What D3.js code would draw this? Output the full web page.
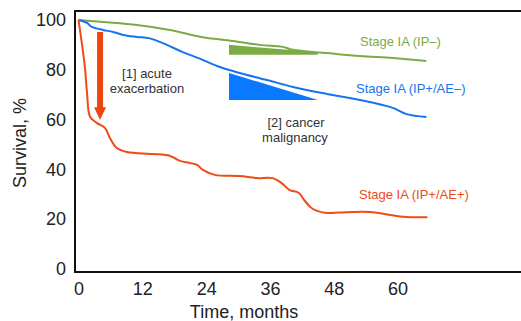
<!DOCTYPE html>
<html>
  <head>
    <meta charset="utf-8" />
    <title>Survival</title>
    <script src="https://d3js.org/d3.v7.min.js"></script>
    <style>
        body{ margin: 0; background: #fff; }
        text{ font-family: "Liberation Sans", Arial, sans-serif; }
    </style>
  </head>
  <body>
    <svg id="vis"></svg>
    <script>
        // data: [month, survival %]
        var greenCurve = [[0,100],[4.6,99.2],[11,98],[17.2,96],[23,93.2],[29,91.6],[34.1,90],
            [38.4,89.2],[40.3,88],[46.7,86.7],[52.9,85.5],[59.1,84.7],[65.4,83.5]];
        var blueCurve = [[0,100],[1.6,98.8],[2.5,97.2],[4.6,96],[6.5,95.2],[8.4,94],[11,93.2],
            [13.4,92.6],[16.6,90],[19.6,87.1],[22.8,84.5],[26.6,81.1],[30.3,78.7],[35.4,75.9],
            [40.3,73.1],[46.7,70.3],[52.9,67.9],[59.1,64.7],[61.7,62.2],[65.4,61]];
        var redCurve = [[0,100],[1.2,81.1],[1.6,70.7],[2.2,61],[3.5,58.6],[5,56.6],[5.9,52.6],
            [7.2,48.6],[9.1,47],[14,46.2],[17.2,45.4],[19.1,43.4],[20.9,42.6],[22.3,41.8],
            [23.4,39.8],[25.6,37.8],[30.3,37.3],[33.5,36.5],[36.5,36.5],[38.2,34.5],[39.7,31.7],
            [41.4,30.6],[42.5,27.5],[44,24.2],[46.7,22.5],[49.1,22.7],[54.7,22.9],[61,21],[65.6,20.8]];

        var xTicks = [0, 12, 24, 36, 48, 60];
        var yTicks = [0, 20, 40, 60, 80, 100];

        // annotation wedges [month, %]
        var greenWedge = [[28.3,90],[45,87],[45,86],[28.3,86]];
        var blueWedge = [[28.3,78.7],[45,67.9],[28.3,67.9]];
        var arrowSpan = {x: 4.05, top: 95.2, headBase: 65, tip: 59.8};

        var width = 521, height = 321;
        var svg = d3.select("#vis").attr("width", width).attr("height", height);

        var x = d3.scaleLinear().domain([-0.66, 83.2]).range([75, 521]);
        var y = d3.scaleLinear().domain([-1.2, 103.6]).range([272, 11]);

        var green = "#7aab45", blue = "#1574ee", red = "#f04a17";

        // frame (right side falls outside the picture)
        svg.append("rect").attr("x", 75).attr("y", 11).attr("width", 460).attr("height", 261)
            .attr("fill", "none").attr("stroke", "#111").attr("stroke-width", 2);

        var xAxis = svg.append("g").attr("transform", "translate(0,272)")
            .call(d3.axisBottom(x).tickValues(xTicks).tickSize(0).tickPadding(10));
        xAxis.select(".domain").remove();
        xAxis.selectAll("text").attr("font-size", 18).attr("fill", "#222")
            .attr("font-family", "Liberation Sans, Arial, sans-serif");

        var yAxis = svg.append("g").attr("transform", "translate(75,0)")
            .call(d3.axisLeft(y).tickValues(yTicks).tickSize(0).tickPadding(9));
        yAxis.select(".domain").remove();
        yAxis.selectAll("text").attr("font-size", 18).attr("fill", "#222")
            .attr("font-family", "Liberation Sans, Arial, sans-serif");

        svg.append("text").attr("x", 244).attr("y", 318).attr("text-anchor", "middle")
            .attr("font-size", 18).attr("fill", "#222").text("Time, months");
        svg.append("text").attr("transform", "translate(26,143) rotate(-90)")
            .attr("text-anchor", "middle").attr("font-size", 18).attr("fill", "#222")
            .text("Survival, %");

        // wedges
        var poly = function(pts){ return "M" + pts.map(function(p){ return x(p[0]) + "," + y(p[1]); }).join("L") + "Z"; };
        svg.append("path").attr("d", poly(greenWedge)).attr("fill", green);
        svg.append("path").attr("d", poly(blueWedge)).attr("fill", "#0a78ff");

        var line = d3.line().x(function(d){ return x(d[0]); }).y(function(d){ return y(d[1]); })
            .curve(d3.curveCatmullRom.alpha(0.5));

        [[greenCurve, green], [blueCurve, blue], [redCurve, red]].forEach(function(s){
            svg.append("path").attr("d", line(s[0])).attr("fill", "none")
                .attr("stroke", s[1]).attr("stroke-width", 2);
        });

        // arrow
        var ax = x(arrowSpan.x);
        svg.append("rect").attr("x", ax - 3).attr("y", y(arrowSpan.top)).attr("width", 6)
            .attr("height", y(arrowSpan.headBase) - y(arrowSpan.top) + 1).attr("fill", "#ee4410");
        svg.append("path").attr("d", "M" + (ax - 6) + "," + y(arrowSpan.headBase) + "L" + (ax + 6) + "," + y(arrowSpan.headBase)
            + "L" + ax + "," + y(arrowSpan.tip) + "Z").attr("fill", "#ee4410");

        // annotation text
        var note = function(tx, ty, str, color, anchor){
            svg.append("text").attr("x", tx).attr("y", ty).attr("text-anchor", anchor || "middle")
                .attr("font-size", 13).attr("fill", color).text(str);
        };
        note(147, 78, "[1] acute", "#333");
        note(147, 93, "exacerbation", "#333");
        note(296, 127, "[2] cancer", "#333");
        note(295, 142, "malignancy", "#333");
        note(360, 46, "Stage IA (IP\u2013)", green, "start");
        note(356, 93, "Stage IA (IP+/AE\u2013)", blue, "start");
        note(359, 199, "Stage IA (IP+/AE+)", red, "start");
    </script>
  </body>
</html>
